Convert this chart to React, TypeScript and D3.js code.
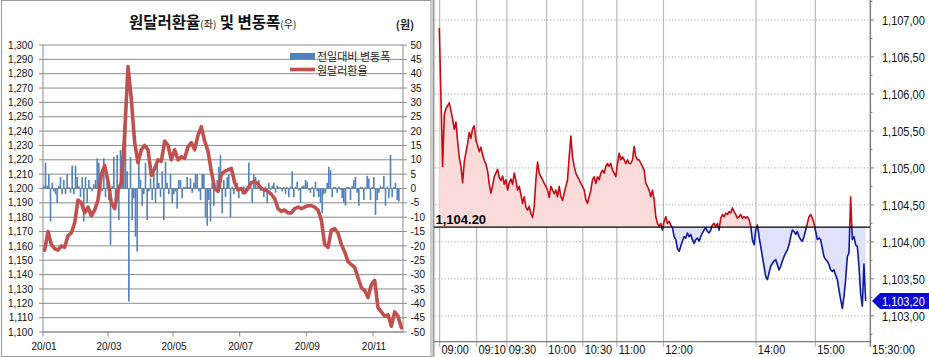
import React from 'react';
import * as d3 from 'd3';

// ---------- Left chart data ----------
const leftTicks = [1100, 1110, 1120, 1130, 1140, 1150, 1160, 1170, 1180, 1190, 1200, 1210, 1220, 1230, 1240, 1250, 1260, 1270, 1280, 1290, 1300];
const rightTicks = [-50, -45, -40, -35, -30, -25, -20, -15, -10, -5, 0, 5, 10, 15, 20, 25, 30, 35, 40, 45, 50];
const monthLabels = ['20/01', '20/03', '20/05', '20/07', '20/09', '20/11'];
const monthDayIdx = [0, 39, 78, 118, 158, 198];
const tradingSlots = 216;

// KRW/USD rate, every second trading day
const rateSeries = [
  1157, 1170, 1161, 1158, 1157, 1160, 1159, 1167, 1169, 1176,
  1192, 1190, 1183, 1187, 1181, 1185, 1192, 1210, 1216, 1205,
  1190, 1186, 1199, 1204, 1238, 1285, 1262, 1232, 1218, 1227,
  1230, 1227, 1209, 1214, 1220, 1219, 1233, 1230, 1220, 1227,
  1220, 1222, 1221, 1229, 1232, 1227, 1237, 1243, 1233, 1226,
  1212, 1200, 1198, 1210, 1212, 1213, 1214, 1204, 1199, 1200,
  1197, 1200, 1204, 1205, 1203, 1200, 1199, 1198, 1196, 1193,
  1186, 1184, 1185, 1183, 1183, 1186, 1187, 1186, 1187, 1188,
  1188, 1187, 1185, 1178, 1161, 1159, 1171, 1172, 1169, 1161,
  1156, 1149, 1147, 1145, 1138, 1131, 1129, 1124, 1133, 1136,
  1117, 1114, 1111, 1112, 1104, 1114, 1111, 1103,
];

// day-on-day change (right axis), one per trading day
const changeSeries = [
  1, 9, 1, 5, -11.5, 2, -1, -2, -5, 1, 4, -2, 3, -2, 5, 0.5, -1.5, 8, -2, 8,
  4, 0.8, -3, 4, -11.5, 4, -5, 3, 0.6, -1, 1.5, 3, 10.5, 9, 5, -1, 10.5, -3, 2, -4,
  -19.7, 0.8, 11, -4, 11.7, -11, 13.4, 10.5, 22, 22.7, 6, -39.4,
  11, -11, -3.4, -16.8, -22, 10, 3, -6, -2, 9, -11, -1, 3.5,
  -4, 5, -5, 9.4, 2, -3, 6, -11, 9.4, 2,
  -2, 5, -5, -2, -1, -7, 3, 3, -3.4,
  0.6, 0.5, 4, 0.5, 3.5, -1.5, 2, 5, 5, -1,
  -4, 5, 5, -10, -13, -4, -11.5, 2, -6,
  0.8, 3, 7.6, 11.7, -8.7,
  3, -3, 4, 5, -10, 0.6, -2, 0.8, 2, -3.4, 0.5, -2, 0.7, -0.6, 0.8, 9, 0.5, -5, 5, 4,
  0.6, 3, -0.8, 0.5, -3, 0.7, -5, 2, -0.6, 1, 2, -1.5, 1, 0.6, 0.5, -1, 0.5, -2, 0.5, -3,
  0.7, 6, -3, 0.6, 2.4, -0.7, -5, 0.8, 1, 3, 2.4, -0.5, -1.5, 0.6, -3, 2.4, -1, -3, -5, -8.7,
  -2, -1.5, 2, 7.6, 6.4, -3, 0.5, 0.5, -1.5, 0.7, -0.5, -3.4, -5, -6, 0.6, 0.5, -4, 0.8, 3, 4,
  -1.5, -6, 0.6, 0.5, -4, 0.5, 4.4, 3.5, -4, 0.5, 4, -9.2, -4, -1.5, 1, 0.5, 4.4, -6, 0.7, -3.4,
  11.7, -3, 0.6, 2, -4, -4.5,
];

// ---------- Right chart data ----------
const timeLabels = ['09:00', '09:10', '09:30', '10:00', '10:30', '11:00', '12:00', '14:00', '15:00', '15:30:00'];
const timeTickIdx = [0.2, 22.4, 40.6, 64.4, 86.2, 106.6, 134.6, 190.2, 225.8, 258.8];
const priceTicks = [1103, 1103.5, 1104, 1104.5, 1105, 1105.5, 1106, 1106.5, 1107];
const priceMinorTicks = [1102.75, 1103.25, 1103.75, 1104.25, 1104.75, 1105.25, 1105.75, 1106.25, 1106.75, 1107.25];
const prevClose = 1104.2;
const lastPrice = 1103.2;
const intraday = [
  1106.89, 1105.95, 1105.02, 1105.72, 1105.80, 1105.84, 1105.88, 1105.77, 1105.66, 1105.52,
  1105.62, 1105.36, 1105.14, 1105.02, 1104.80, 1105.08, 1105.21, 1105.33, 1105.48, 1105.40,
  1105.53, 1105.57, 1105.37, 1105.30, 1105.22, 1105.28, 1105.18, 1105.10, 1105.05, 1104.96,
  1104.78, 1104.66, 1104.76, 1104.88, 1104.93, 1104.98, 1104.87, 1104.83, 1104.89, 1104.78,
  1104.84, 1104.70, 1104.80, 1104.85, 1104.78, 1104.93, 1104.83, 1104.70, 1104.75, 1104.64,
  1104.52, 1104.61, 1104.47, 1104.43, 1104.48, 1104.38, 1104.33, 1104.48, 1104.84, 1105.08,
  1104.93, 1104.88, 1104.84, 1104.79, 1104.75, 1104.70, 1104.60, 1104.75, 1104.70, 1104.65,
  1104.70, 1104.61, 1104.75, 1104.61, 1104.56, 1104.66, 1104.75, 1104.84, 1105.15, 1105.43,
  1105.15, 1105.02, 1104.93, 1104.88, 1104.84, 1104.79, 1104.75, 1104.70, 1104.57, 1104.52,
  1104.61, 1104.70, 1104.84, 1104.88, 1104.79, 1104.88, 1104.84, 1104.93, 1104.97, 1104.93,
  1105.02, 1105.06, 1105.02, 1105.06, 1104.97, 1104.93, 1104.88, 1105.06, 1105.20, 1105.11,
  1105.15, 1105.11, 1105.06, 1105.11, 1105.06, 1105.06, 1105.11, 1105.29, 1105.15, 1105.11,
  1105.11, 1105.06, 1105.02, 1104.97, 1104.79, 1104.75, 1104.70, 1104.61, 1104.70, 1104.57,
  1104.34, 1104.25, 1104.21, 1104.25, 1104.16, 1104.28, 1104.34, 1104.25, 1104.28, 1104.23,
  1104.19, 1104.07, 1104.03, 1103.91, 1103.87, 1103.94, 1104.01, 1104.07, 1104.05, 1104.12,
  1104.07, 1104.10, 1104.03, 1103.98, 1104.03, 1104.05, 1104.01, 1104.07, 1104.12, 1104.16,
  1104.19, 1104.14, 1104.12, 1104.16, 1104.23, 1104.25, 1104.21, 1104.25, 1104.16, 1104.32,
  1104.37, 1104.34, 1104.39, 1104.37, 1104.41, 1104.39, 1104.46, 1104.41, 1104.37, 1104.32,
  1104.34, 1104.37, 1104.32, 1104.34, 1104.32, 1104.34, 1104.30, 1104.21, 1104.03, 1103.96,
  1104.16, 1104.23, 1104.07, 1103.94, 1103.80, 1103.67, 1103.53, 1103.49, 1103.58, 1103.67,
  1103.71, 1103.74, 1103.76, 1103.69, 1103.62, 1103.67, 1103.74, 1103.80, 1103.85, 1103.89,
  1103.96, 1104.07, 1104.16, 1104.14, 1104.10, 1104.14, 1104.07, 1104.03, 1104.01, 1104.07,
  1104.16, 1104.25, 1104.34, 1104.37, 1104.32, 1104.25, 1104.14, 1104.03, 1104.05, 1104.03,
  1103.91, 1103.80, 1103.76, 1103.74, 1103.69, 1103.62, 1103.60, 1103.62, 1103.55, 1103.49,
  1103.35, 1103.22, 1103.10, 1103.26, 1103.49, 1103.80, 1103.85, 1104.61, 1104.03, 1104.07,
  1103.96, 1103.94, 1103.67, 1103.30, 1103.13, 1103.70, 1103.20,
];

const fmtThousands = d3.format(',');
const fmtPriceAxis = (v: number) => {
  const [i, f] = v.toFixed(2).split('.');
  return fmtThousands(+i) + ',' + f;
};
const fmtPricePrev = (v: number) => {
  const [i, f] = v.toFixed(2).split('.');
  return fmtThousands(+i) + '.' + f;
};

const LATIN = "'Liberation Sans', Arial, sans-serif";
const KR = "'Noto Sans CJK KR', sans-serif";

// tall, narrow label (stretched vertically)
function TallText({ x, y, children, fill = '#111' }: { x: number; y: number; children: string; fill?: string }) {
  return (
    <text transform={`translate(${x},${y}) scale(1,1.22)`} fontSize={11} fontFamily={LATIN} fill={fill}>
      {children}
    </text>
  );
}

function LeftChart() {
  const xL = d3.scaleLinear().domain([0, tradingSlots]).range([43, 403]);
  const yL = d3.scaleLinear().domain([1100, 1300]).range([332, 45]);
  const yR = d3.scaleLinear().domain([-50, 50]).range([332, 45]);
  const line = d3
    .line<number>()
    .x((_, i) => xL(2 * i + 1))
    .y((d) => yL(d));
  const grid = '#8a8a8a';
  return (
    <g>
      <rect x={1.5} y={0.5} width={429.5} height={356} fill="#fff" stroke="#9a9a9a" />
      {leftTicks.map((t) => (
        <g key={'gl' + t}>
          <line x1={39} x2={403} y1={yL(t)} y2={yL(t)} stroke={grid} strokeWidth={1} />
          <text x={33} y={yL(t) + 3.6} textAnchor="end" fontSize={10} fontFamily={LATIN} fill="#111">
            {fmtThousands(t)}
          </text>
        </g>
      ))}
      {rightTicks.map((t) => (
        <g key={'gr' + t}>
          <line x1={403} x2={407} y1={yR(t)} y2={yR(t)} stroke={grid} />
          <text x={410.5} y={yR(t) + 3.6} fontSize={10} fontFamily={LATIN} fill="#111">
            {t}
          </text>
        </g>
      ))}
      <line x1={43} x2={43} y1={45} y2={332} stroke={grid} />
      <line x1={403} x2={403} y1={45} y2={332} stroke={grid} />
      <line x1={43} x2={403} y1={332} y2={332} stroke={grid} />
      {monthDayIdx.map((d, i) => (
        <g key={'m' + d}>
          <line x1={xL(d)} x2={xL(d)} y1={332} y2={336.5} stroke={grid} />
          <text x={xL(d) + 1} y={350} textAnchor="middle" fontSize={10} fontFamily={LATIN} fill="#111">
            {monthLabels[i]}
          </text>
        </g>
      ))}
      {changeSeries.map((v, i) => (
        <rect
          key={'b' + i}
          x={xL(i + 0.5) - 0.8}
          width={1.6}
          y={Math.min(yR(0), yR(v))}
          height={Math.abs(yR(v) - yR(0))}
          fill="#4f81bd"
        />
      ))}
      <path d={line(rateSeries) || ''} fill="none" stroke="#c0504d" strokeWidth={3.6} strokeLinejoin="round" strokeLinecap="round" />
      {/* title */}
      <text x={129} y={28} fontFamily={KR} fill="#111">
        <tspan fontSize={15.5} fontWeight={700}>원달러환율</tspan>
        <tspan fontSize={10}>(좌)</tspan>
        <tspan fontSize={15.5} fontWeight={700}> 및 변동폭</tspan>
        <tspan fontSize={10}>(우)</tspan>
      </text>
      <text x={405} y={29} textAnchor="middle" fontSize={11} fontWeight={700} fontFamily={KR} fill="#222">
        (원)
      </text>
      {/* legend */}
      <rect x={290} y={53} width={25} height={6.5} fill="#4f81bd" />
      <line x1={290} x2={315} y1={69.5} y2={69.5} stroke="#c0504d" strokeWidth={3.6} />
      <text x={317} y={60.5} fontSize={11} fontFamily={KR} fill="#222">전일대비 변동폭</text>
      <text x={317} y={75} fontSize={11} fontFamily={KR} fill="#222">원달러환율</text>
    </g>
  );
}

function RightChart() {
  const xR = d3.scaleLinear().domain([0, 258.8]).range([439.3, 870.3]);
  const yP = d3.scaleLinear().domain([1102.65, 1107.27]).range([341.7, 0]);
  const baseY = yP(prevClose);
  const area = d3
    .area<number>()
    .x((_, i) => xR(i))
    .y0(baseY)
    .y1((d) => yP(d));
  const line = d3
    .line<number>()
    .x((_, i) => xR(i))
    .y((d) => yP(d));
  const areaD = area(intraday) || '';
  const lineD = line(intraday) || '';
  const axisC = '#7c7c7c';
  const lastY = yP(lastPrice);
  return (
    <g>
      <defs>
        <clipPath id="clipUp">
          <rect x={434} y={0} width={440} height={baseY} />
        </clipPath>
        <clipPath id="clipDown">
          <rect x={434} y={baseY} width={440} height={342 - baseY} />
        </clipPath>
      </defs>
      <line x1={433.5} x2={433.5} y1={0} y2={357} stroke="#9c9c9c" strokeWidth={2} />
      {timeTickIdx.map((t, i) => (
        <g key={'vt' + i}>
          <line x1={xR(t)} x2={xR(t)} y1={0} y2={347} stroke={i === timeTickIdx.length - 1 ? axisC : '#b9b9b9'} strokeWidth={1.2} />
          <TallText x={xR(t) + 1.8} y={353.6}>{timeLabels[i]}</TallText>
        </g>
      ))}
      {priceTicks.map((p) => (
        <g key={'hp' + p}>
          <line x1={435} x2={870} y1={yP(p)} y2={yP(p)} stroke="#a6a6a6" strokeDasharray="1.2,2" />
          <line x1={870} x2={874} y1={yP(p)} y2={yP(p)} stroke={axisC} />
          <TallText x={882} y={yP(p) + 4.8}>{fmtPriceAxis(p)}</TallText>
        </g>
      ))}
      {priceMinorTicks.map((p) => (
        <line key={'mp' + p} x1={870} x2={872.5} y1={yP(p)} y2={yP(p)} stroke={axisC} />
      ))}
      <g clipPath="url(#clipUp)">
        <path d={areaD} fill="#fbdada" />
        <path d={lineD} fill="none" stroke="#c30d16" strokeWidth={1.6} strokeLinejoin="round" />
      </g>
      <g clipPath="url(#clipDown)">
        <path d={areaD} fill="#dfe2fa" />
        <path d={lineD} fill="none" stroke="#0c1a9e" strokeWidth={1.6} strokeLinejoin="round" />
      </g>
      <line x1={434} x2={870} y1={baseY} y2={baseY} stroke="#000" strokeWidth={1.3} />
      <text x={435.5} y={baseY - 3} fontSize={13} fontWeight={700} fontFamily={LATIN} fill="#000">
        {fmtPricePrev(prevClose)}
      </text>
      <line x1={434} x2={870.5} y1={341.7} y2={341.7} stroke={axisC} strokeWidth={1.2} />
      <line x1={870.5} x2={870.5} y1={0} y2={347} stroke={axisC} strokeWidth={1.2} />
      <path
        d={`M${872},${lastY} L${880},${lastY - 8} L${929},${lastY - 8} L${929},${lastY + 8} L${880},${lastY + 8} Z`}
        fill="#0a0ad2"
      />
      <TallText x={882} y={lastY + 4.8} fill="#fff">{fmtPriceAxis(lastPrice)}</TallText>
    </g>
  );
}

export default function App() {
  return (
    <svg
      width={929}
      height={357}
      viewBox="0 0 929 357"
      style={{ position: 'fixed', left: 0, top: 0, background: '#fff', display: 'block' }}
    >
      <rect x={0} y={0} width={929} height={357} fill="#fff" />
      <LeftChart />
      <RightChart />
    </svg>
  );
}
